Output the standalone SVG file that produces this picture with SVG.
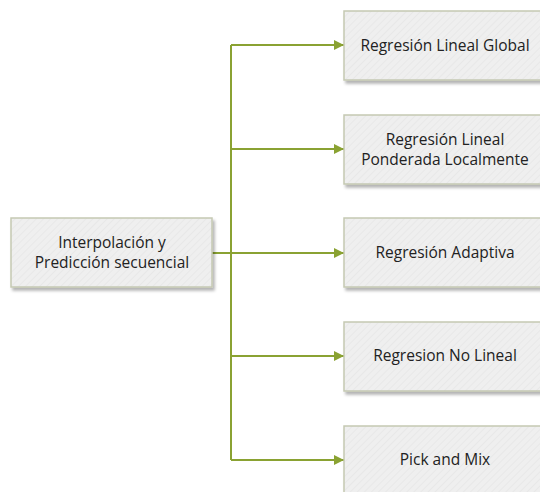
<svg xmlns="http://www.w3.org/2000/svg" width="540" height="492" viewBox="0 0 540 492">
  <defs>
    <pattern id="hatch" width="5" height="5" patternUnits="userSpaceOnUse" patternTransform="rotate(45)">
      <rect width="5" height="5" fill="#efefef"/>
      <line x1="0" y1="0" x2="0" y2="5" stroke="#e6e6e6" stroke-width="1.5"/>
    </pattern>
    <filter id="shadow" x="-10%" y="-10%" width="130%" height="140%">
      <feGaussianBlur in="SourceAlpha" stdDeviation="1.5"/>
      <feOffset dx="1.5" dy="2.5" result="b"/>
      <feComponentTransfer><feFuncA type="linear" slope="0.3"/></feComponentTransfer>
      <feMerge><feMergeNode/><feMergeNode in="SourceGraphic"/></feMerge>
    </filter>
    <marker id="arrow" viewBox="0 0 10 10" refX="10" refY="5" markerWidth="11" markerHeight="10" markerUnits="userSpaceOnUse" orient="auto">
      <path d="M0,0 L10,5 L0,10 Z" fill="#8aa232"/>
    </marker>
  </defs>
  <style>
    .box { fill: url(#hatch); stroke: #c5c9b3; stroke-width: 1.5; filter: url(#shadow); }
    .lbl { font-family: "Open Sans", "DejaVu Sans", sans-serif; font-size: 15.5px; fill: #222; text-anchor: middle; }
    .conn { fill: none; stroke: #8aa232; stroke-width: 2; }
  </style>
  <rect width="540" height="492" fill="#fff"/>

  <g id="connectors">
    <path class="conn" d="M212,253 H231"/>
    <path class="conn" d="M231,45 V460"/>
    <path class="conn" d="M231,45 H344" marker-end="url(#arrow)"/>
    <path class="conn" d="M231,149 H344" marker-end="url(#arrow)"/>
    <path class="conn" d="M231,253 H344" marker-end="url(#arrow)"/>
    <path class="conn" d="M231,356 H344" marker-end="url(#arrow)"/>
    <path class="conn" d="M231,460 H344" marker-end="url(#arrow)"/>
  </g>

  <g id="root">
    <rect class="box" x="11" y="218" width="201" height="69"/>
    <text class="lbl" x="112" y="248">Interpolación y</text>
    <text class="lbl" x="112" y="268">Predicción secuencial</text>
  </g>

  <g id="global">
    <rect class="box" x="344" y="11" width="202" height="69"/>
    <text class="lbl" x="445" y="51">Regresión Lineal Global</text>
  </g>

  <g id="ponderada">
    <rect class="box" x="344" y="115" width="202" height="69"/>
    <text class="lbl" x="445" y="145">Regresión Lineal</text>
    <text class="lbl" x="445" y="165">Ponderada Localmente</text>
  </g>

  <g id="adaptiva">
    <rect class="box" x="344" y="218" width="202" height="69"/>
    <text class="lbl" x="445" y="258">Regresión Adaptiva</text>
  </g>

  <g id="nolineal">
    <rect class="box" x="344" y="322" width="202" height="69"/>
    <text class="lbl" x="445" y="361">Regresion No Lineal</text>
  </g>

  <g id="pickmix">
    <rect class="box" x="344" y="426" width="202" height="69"/>
    <text class="lbl" x="445" y="465">Pick and Mix</text>
  </g>
</svg>
